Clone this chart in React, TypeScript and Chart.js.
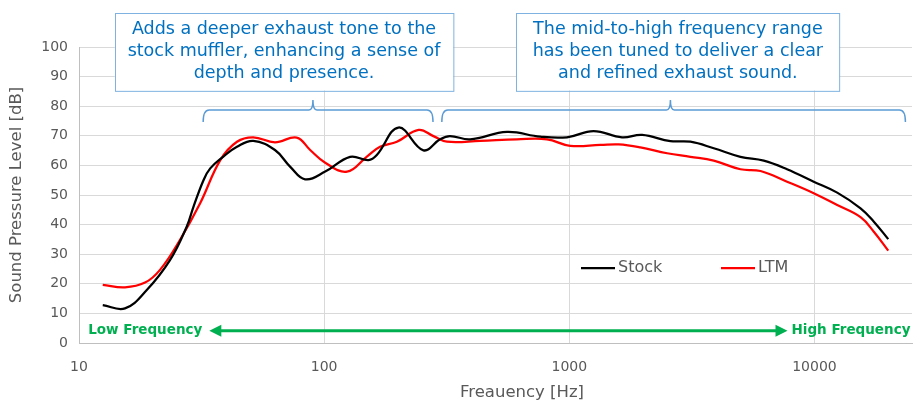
import { useEffect, useRef } from "react"
import { Chart, registerables, type ChartConfiguration, type Plugin } from "chart.js"

Chart.register(...registerables)

// frequency response (Hz / dB)
const stockFreq = [12.5, 15.4, 18.9, 23.5, 27.5, 29.3, 32.2, 34.3, 38.8, 44.1, 51.4, 63, 72.6, 83.6, 101, 127.6, 151.6, 164, 201, 254, 297, 326, 394, 557, 762, 978, 1256, 1641, 1982, 2585, 3118, 3883, 4990, 6212, 7730, 9930, 12380, 15420, 17470, 20000]
const stockDb = [12.8, 11.7, 17.9, 28, 39.3, 46, 55, 59, 63, 66.3, 68.3, 65.2, 59.6, 55.3, 57.9, 62.9, 61.8, 63.5, 72.8, 65.1, 68.8, 69.9, 68.8, 71.3, 69.7, 69.5, 71.6, 69.5, 70.3, 68.2, 68, 65.8, 62.9, 61.6, 58.7, 54.5, 50.8, 45.5, 41, 35.1]

const ltmFreq = [12.5, 15.4, 18.6, 21.4, 25.8, 31.2, 37.7, 44.1, 51.4, 63, 77.3, 87.7, 101, 124, 149, 169, 198, 243, 279, 317, 433, 611, 811, 1009, 1339, 1590, 1949, 2506, 3118, 3883, 4990, 6026, 7730, 9930, 12380, 15420, 17470, 20000]
const ltmDb = [19.6, 18.8, 20.4, 24.7, 34.8, 47.2, 61.8, 68, 69.5, 67.8, 69.4, 65.2, 60.9, 57.9, 62.9, 66.3, 68, 72, 69.9, 68, 68.3, 68.8, 68.8, 66.6, 66.9, 67.1, 66.1, 64.1, 62.9, 61.6, 58.7, 58.1, 54.5, 50.6, 46.6, 42.5, 37.6, 31.2]

const seriesNames = ["Stock", "LTM"]
const seriesColors = ["#000000", "#FF0000"]

const xTicks = [10, 100, 1000, 10000]

// callouts: frequency span of the brace, text in the box above it
const noteSpans = [
  [32.1, 278],
  [302, 23500],
]
const noteTips = [90, 2585]
const noteBoxes = [
  [14.0, 336],
  [608, 12650],
]
const noteLines = [
  ["Adds a deeper exhaust tone to the", "stock muffler, enhancing a sense of", "depth and presence."],
  ["The mid-to-high frequency range", "has been tuned to deliver a clear", "and refined exhaust sound."],
]
const arrowSpan = [34, 7766]

const FONT = "'DejaVu Sans', sans-serif"
const GRAY = "#595959"

const notesPlugin: Plugin<"line"> = {
  id: "notes",
  afterDatasetsDraw(chart) {
    const { ctx, chartArea } = chart
    const x = chart.scales.x
    const y = chart.scales.y
    ctx.save()

    // braces
    ctx.strokeStyle = "#5B9BD5"
    ctx.lineWidth = 1.5
    const yLine = y.getPixelForValue(78.7)
    const yEnd = y.getPixelForValue(74.7)
    const yTip = y.getPixelForValue(82.1)
    noteSpans.forEach(([a, b], i) => {
      const x1 = x.getPixelForValue(a)
      const x2 = x.getPixelForValue(b)
      const xm = x.getPixelForValue(noteTips[i])
      const r = 6
      ctx.beginPath()
      ctx.moveTo(x1, yEnd)
      ctx.quadraticCurveTo(x1, yLine, x1 + r, yLine)
      ctx.lineTo(xm - 4, yLine)
      ctx.quadraticCurveTo(xm, yLine, xm, yTip)
      ctx.quadraticCurveTo(xm, yLine, xm + 4, yLine)
      ctx.lineTo(x2 - r, yLine)
      ctx.quadraticCurveTo(x2, yLine, x2, yEnd)
      ctx.stroke()
    })

    // text boxes
    const boxTop = y.getPixelForValue(111.6)
    const boxBottom = y.getPixelForValue(85.3)
    noteBoxes.forEach(([a, b], i) => {
      const x1 = x.getPixelForValue(a)
      const x2 = x.getPixelForValue(b)
      ctx.fillStyle = "#FFFFFF"
      ctx.fillRect(x1, boxTop, x2 - x1, boxBottom - boxTop)
      ctx.strokeStyle = "#7FB2E0"
      ctx.lineWidth = 1
      ctx.strokeRect(Math.round(x1) + 0.5, Math.round(boxTop) + 0.5, x2 - x1, boxBottom - boxTop)
      ctx.fillStyle = "#0070C0"
      ctx.font = `17.5px ${FONT}`
      ctx.textAlign = "center"
      ctx.textBaseline = "middle"
      const cx = (x1 + x2) / 2
      const cy = (boxTop + boxBottom) / 2
      noteLines[i].forEach((t, j) => {
        ctx.fillText(t, cx, cy + (j - 1) * 22)
      })
    })

    // low / high frequency arrow
    const ya = y.getPixelForValue(4.1)
    const xa = x.getPixelForValue(arrowSpan[0])
    const xb = x.getPixelForValue(arrowSpan[1])
    ctx.strokeStyle = "#00B050"
    ctx.fillStyle = "#00B050"
    ctx.lineWidth = 3
    ctx.beginPath()
    ctx.moveTo(xa + 8, ya)
    ctx.lineTo(xb - 8, ya)
    ctx.stroke()
    ctx.beginPath()
    ctx.moveTo(xa, ya)
    ctx.lineTo(xa + 12, ya - 6)
    ctx.lineTo(xa + 12, ya + 6)
    ctx.closePath()
    ctx.fill()
    ctx.beginPath()
    ctx.moveTo(xb, ya)
    ctx.lineTo(xb - 12, ya - 6)
    ctx.lineTo(xb - 12, ya + 6)
    ctx.closePath()
    ctx.fill()
    ctx.font = `bold 13.5px ${FONT}`
    ctx.textBaseline = "middle"
    ctx.textAlign = "right"
    ctx.fillText("Low Frequency", xa - 7, ya)
    ctx.textAlign = "left"
    ctx.fillText("High Frequency", xb + 4, ya)

    // legend inside the plot
    const yl = y.getPixelForValue(25.3)
    ctx.font = `16px ${FONT}`
    ctx.textBaseline = "middle"
    ctx.textAlign = "left"
    seriesNames.forEach((name, i) => {
      const lx = chartArea.left + 502 + i * 140
      ctx.strokeStyle = seriesColors[i]
      ctx.lineWidth = 2.25
      ctx.beginPath()
      ctx.moveTo(lx, yl)
      ctx.lineTo(lx + 34, yl)
      ctx.stroke()
      ctx.fillStyle = GRAY
      ctx.fillText(name, lx + 37, yl)
    })

    // x axis title
    ctx.font = `16.5px ${FONT}`
    ctx.textAlign = "center"
    ctx.fillStyle = GRAY
    ctx.fillText("Freauency [Hz]", chartArea.left + 443, 393)

    ctx.restore()
  },
}

export default function App() {
  const canvasRef = useRef<HTMLCanvasElement | null>(null)
  const chartRef = useRef<Chart | null>(null)

  useEffect(() => {
    if (!canvasRef.current) return
    const ctx = canvasRef.current.getContext("2d")
    if (!ctx) return
    if (chartRef.current) chartRef.current.destroy()

    const config: ChartConfiguration<"line"> = {
      type: "line",
      data: {
        datasets: [
          {
            label: seriesNames[0],
            data: stockFreq.map((f, i) => ({ x: f, y: stockDb[i] })),
            borderColor: seriesColors[0],
            borderWidth: 2.25,
            pointRadius: 0,
            tension: 0.4,
          },
          {
            label: seriesNames[1],
            data: ltmFreq.map((f, i) => ({ x: f, y: ltmDb[i] })),
            borderColor: seriesColors[1],
            borderWidth: 2.25,
            pointRadius: 0,
            tension: 0.4,
          },
        ],
      },
      options: {
        responsive: false,
        animation: false,
        layout: { padding: { top: 47, right: 8, left: 0, bottom: 0 } },
        plugins: {
          legend: { display: false },
          tooltip: { enabled: false },
        },
        scales: {
          x: {
            type: "logarithmic",
            min: 10,
            max: 25000,
            afterBuildTicks: (scale) => {
              scale.ticks = xTicks.map((v) => ({ value: v }))
            },
            afterFit: (scale) => {
              scale.height = 69
            },
            grid: { color: "#D9D9D9", drawTicks: false },
            border: { color: "#BFBFBF" },
            ticks: {
              color: GRAY,
              font: { family: FONT, size: 14 },
              padding: 16,
              maxRotation: 0,
              callback: (v) => String(v),
            },
          },
          y: {
            min: 0,
            max: 100,
            afterFit: (scale) => {
              scale.width = 79
            },
            grid: { color: "#D9D9D9", drawTicks: false },
            border: { color: "#BFBFBF" },
            ticks: {
              stepSize: 10,
              color: GRAY,
              font: { family: FONT, size: 14 },
              padding: 11,
            },
            title: {
              display: true,
              text: "Sound Pressure Level [dB]",
              color: GRAY,
              font: { family: FONT, size: 16.5 },
              padding: { top: 7, bottom: 0 },
            },
          },
        },
      },
      plugins: [notesPlugin],
    }

    chartRef.current = new Chart(ctx, config)

    return () => {
      if (chartRef.current) {
        chartRef.current.destroy()
        chartRef.current = null
      }
    }
  }, [])

  return (
    <div style={{ position: "absolute", left: 0, top: 0, width: 920, height: 412, background: "#fff" }}>
      <canvas ref={canvasRef} width={920} height={412} />
    </div>
  )
}
